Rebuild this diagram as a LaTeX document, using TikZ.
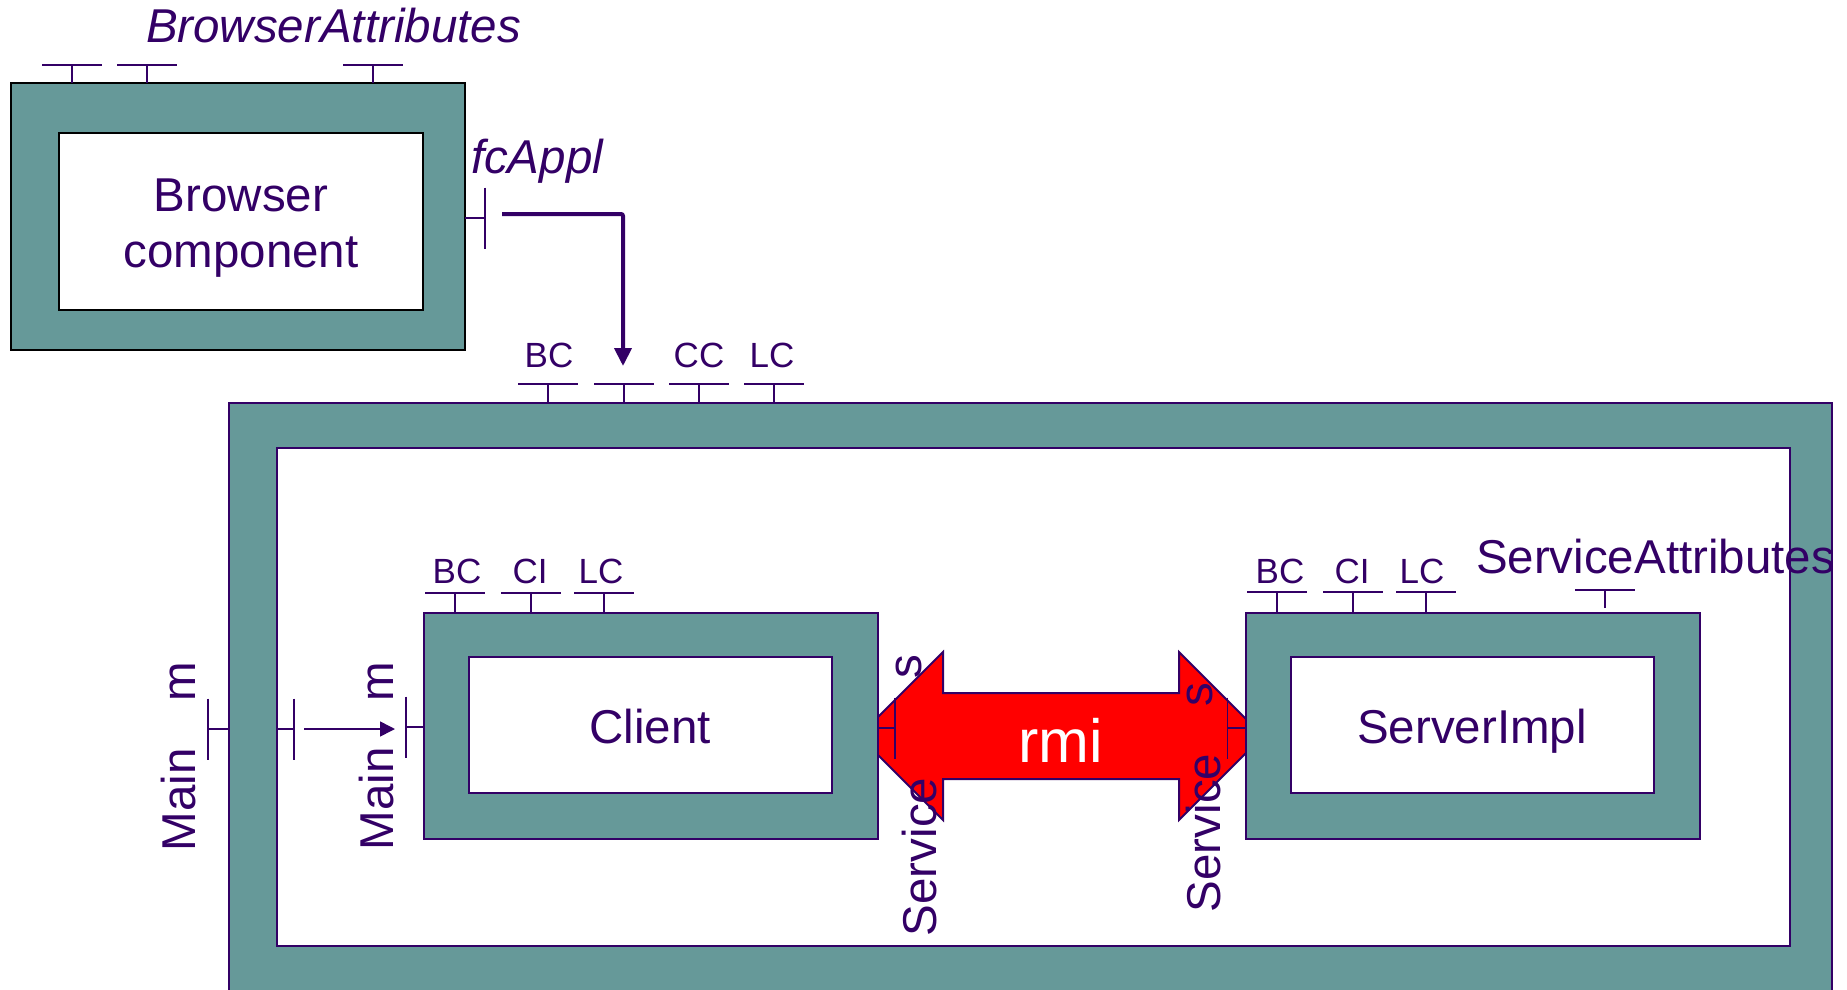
\documentclass[tikz,border=0pt]{standalone}
\usepackage{fontspec}
\setmainfont{Liberation Sans}
\usetikzlibrary{arrows.meta}
\definecolor{tealf}{HTML}{669999}
\definecolor{purp}{HTML}{330066}
\definecolor{rmired}{HTML}{FF0000}
\tikzset{
  pics/topport/.style={code={\draw[portln,pic actions] (0,0) -- (0,-#1) (-30,-#1) -- (30,-#1);}},
  pics/lport/.style={code={\draw[portln,pic actions] (0,0) -- (-#1,0) (-#1,-30.5) -- (-#1,30.5);}},
  pics/rport/.style={code={\draw[portln,pic actions] (0,0) -- (#1,0) (#1,-30.5) -- (#1,30.5);}},
}
\begin{document}
\begin{tikzpicture}[x=1pt,y=-1pt,
  box/.style={draw=purp,line width=2pt,inner sep=0pt,outer sep=0pt,rectangle},
  outerbox/.style={box,fill=tealf},
  innerbox/.style={box,fill=white},
  portln/.style={draw=purp,line width=1.6pt},
  big/.style={text=purp,font=\fontsize{47.5}{57}\selectfont,inner sep=0pt,outer sep=0pt},
  small/.style={text=purp,font=\fontsize{35}{42}\selectfont,inner sep=0pt,outer sep=0pt},
  vert/.style={rotate=90,anchor=base},
]
\useasboundingbox (0,0) rectangle (1847,990);
\clip (0,0) rectangle (1847,990);

% composite box
\node[outerbox,minimum width=1603pt,minimum height=637pt] (bigout) at (1030.5,721.5) {};
\node[innerbox,minimum width=1513pt,minimum height=498pt] (bigin) at (1033.5,697) {};

% rmi block arrow (drawn below the boxes)
\path[fill=rmired,draw=purp,line width=2pt,line join=miter]
  (859,736) -- (943,652) -- (943,693) -- (1179,693) -- (1179,652) -- (1263,736)
  -- (1179,820) -- (1179,779) -- (943,779) -- (943,820) -- cycle;

% client and server
\node[outerbox,minimum width=454pt,minimum height=226.5pt] (client) at (651,725.75) {};
\node[innerbox,minimum width=363pt,minimum height=136pt] (clientin) at (650.5,725) {};
\node[outerbox,minimum width=454pt,minimum height=226.5pt] (server) at (1472.5,725.75) {};
\node[innerbox,minimum width=363pt,minimum height=136pt] (serverin) at (1472.5,725) {};

% browser
\node[outerbox,draw=black,minimum width=454.3pt,minimum height=267.5pt] (browser) at (237.85,216.25) {};
\node[innerbox,draw=black,minimum width=364pt,minimum height=177pt] (browserin) at (241,221.5) {};

% top ports
\pic at (72,0 |- browser.north) {topport=17.5};
\pic at (147,0 |- browser.north) {topport=17.5};
\pic[draw=black] at (373,0 |- browser.north) {topport=17.5};

\pic at (548,0 |- bigout.north) {topport=19};
\pic at (624,0 |- bigout.north) {topport=19};
\pic at (699,0 |- bigout.north) {topport=19};
\pic at (774,0 |- bigout.north) {topport=19};

\pic at (455,0 |- client.north) {topport=19.5};
\pic at (531,0 |- client.north) {topport=19.5};
\pic at (604,0 |- client.north) {topport=19.5};

\pic at (1277,0 |- server.north) {topport=20.5};
\pic at (1353,0 |- server.north) {topport=20.5};
\pic at (1426,0 |- server.north) {topport=20.5};
\pic at (1605,608) {topport=18};

% side ports
\pic at (browser.east |- 0,218) {rport=20};
\pic at (bigout.west |- 0,729) {lport=21};
\pic at (bigin.west |- 0,729) {rport=17};
\pic at (client.west |- 0,727) {lport=18};
\pic at (client.east |- 0,728) {rport=17};
\pic at (server.west |- 0,728) {lport=18};

% connectors
\coordinate (fcs) at (502,214);
\coordinate (fce) at (623,366);
\draw[purp,line width=4pt,rounded corners=2pt,-{Triangle[length=18pt,width=17pt]}] (fcs) -| (fce);
\coordinate (ms) at (304,729);
\coordinate (me) at (395,729);
\draw[purp,line width=1.6pt,-{Triangle[length=15pt,width=15pt]}] (ms) -- (me);

% texts
\node[big,anchor=base] (tbrowser1) at (241,211) {Browser};
\node[big,anchor=base] (tbrowser2) at (241,267) {component};
\node[big,anchor=base west,font=\fontsize{47.5}{57}\selectfont\itshape] (tba) at (146,43) {BrowserAttributes};
\node[big,anchor=base west,font=\fontsize{47.5}{57}\selectfont\itshape] (tfc) at (471,173) {fcAppl};
\node[big,anchor=base] (tclient) at (650,743) {Client};
\node[big,anchor=base] (tserver) at (1472,743) {ServerImpl};
\node[big,anchor=base west] (tsa) at (1476,573) {ServiceAttributes};

\node[small,anchor=base] at (549,367) {BC};
\node[small,anchor=base] at (699,367) {CC};
\node[small,anchor=base] at (772,367) {LC};

\node[small,anchor=base] at (457,583) {BC};
\node[small,anchor=base] at (530,583) {CI};
\node[small,anchor=base] at (601,583) {LC};

\node[small,anchor=base] at (1280,583) {BC};
\node[small,anchor=base] at (1352,583) {CI};
\node[small,anchor=base] at (1422,583) {LC};

\node[big,vert] (tm1) at (195,682) {m};
\node[big,vert] (tm2) at (393,682) {m};
\node[big,vert] (tmain1) at (195,800) {Main};
\node[big,vert] (tmain2) at (393,799) {Main};
\node[big,vert] (ts1) at (921,667) {s};
\node[big,vert] (ts2) at (1212,695) {s};
\node[big,vert] (tsv1) at (936,857) {Service};
\node[big,vert] (tsv2) at (1220,833) {Service};

\node[anchor=base,text=white,font=\fontsize{61}{73}\selectfont,inner sep=0pt] (trmi) at (1061,762) {rmi};
\end{tikzpicture}
\end{document}
